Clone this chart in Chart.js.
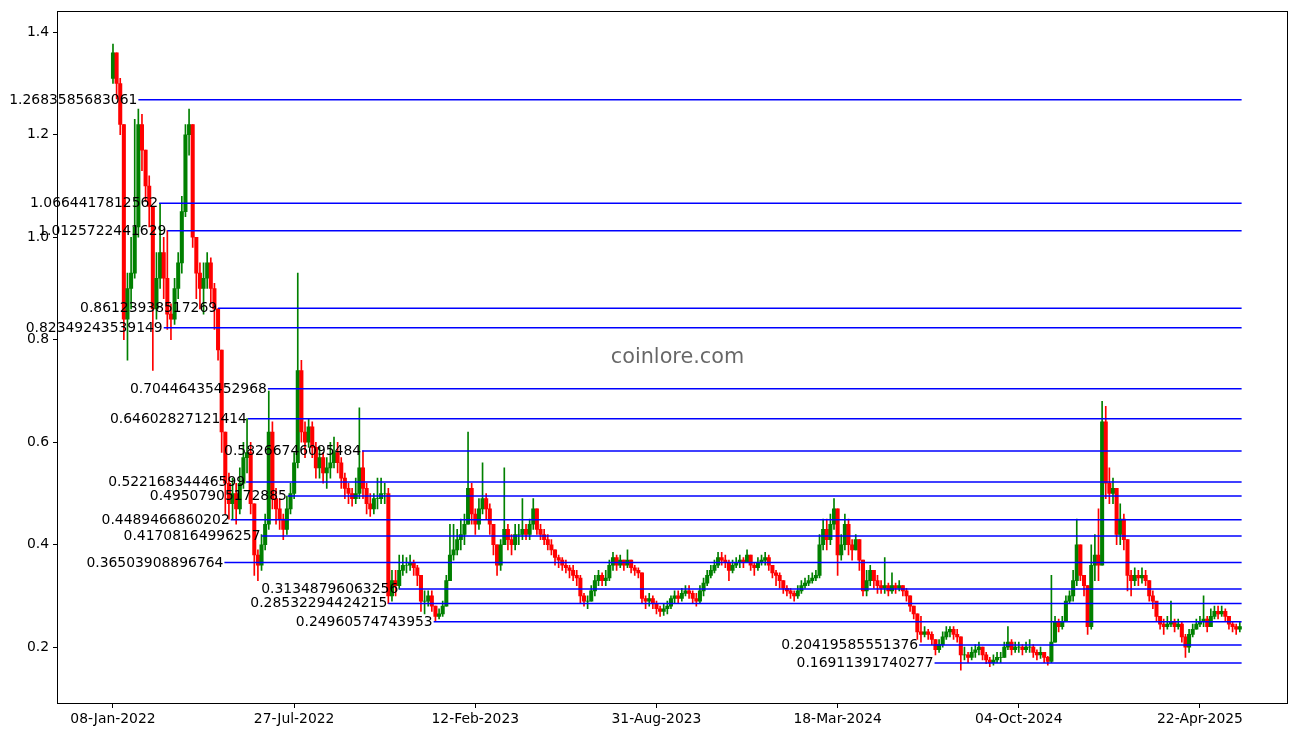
<!DOCTYPE html>
<html><head><meta charset="utf-8">
<script src="https://cdn.jsdelivr.net/npm/chart.js@4.4.1/dist/chart.umd.min.js"></script>
<style>html,body{margin:0;padding:0;background:#fff;}canvas{display:block;}</style>
</head><body>
<canvas id="c" width="1308" height="736" style="width:1308px;height:736px"></canvas>
<script>
// ---- data (4-day candles from 08-Jan-2022) ----
const stepDays = 4;
const firstOpen = 1.31;
const closes = [
1.36,1.30,1.22,0.84,0.90,0.93,1.02,1.22,1.17,1.10,
1.06,0.86,0.92,0.97,0.92,0.85,0.84,0.90,0.95,1.05,
1.20,1.22,1.00,0.93,0.90,0.92,0.95,0.90,0.86,0.78,
0.62,0.52,0.48,0.50,0.47,0.52,0.57,0.58,0.48,0.38,
0.36,0.40,0.44,0.62,0.49,0.47,0.45,0.43,0.47,0.50,
0.56,0.74,0.62,0.60,0.63,0.59,0.55,0.57,0.54,0.55,
0.56,0.58,0.56,0.53,0.51,0.50,0.49,0.50,0.55,0.51,
0.48,0.47,0.49,0.49,0.50,0.50,0.30,0.33,0.32,0.35,
0.36,0.36,0.365,0.355,0.34,0.29,0.29,0.30,0.28,0.26,
0.265,0.28,0.33,0.38,0.39,0.41,0.42,0.44,0.51,0.46,
0.44,0.47,0.49,0.47,0.44,0.40,0.36,0.40,0.43,0.41,
0.40,0.42,0.42,0.43,0.42,0.44,0.47,0.43,0.42,0.41,
0.40,0.39,0.375,0.37,0.36,0.355,0.35,0.34,0.335,0.30,
0.29,0.29,0.31,0.33,0.34,0.33,0.335,0.36,0.375,0.36,
0.37,0.36,0.37,0.355,0.35,0.345,0.295,0.29,0.295,0.285,
0.275,0.27,0.275,0.28,0.295,0.30,0.295,0.305,0.31,0.305,
0.295,0.29,0.31,0.325,0.34,0.35,0.36,0.375,0.37,0.365,
0.35,0.36,0.365,0.37,0.365,0.38,0.36,0.355,0.365,0.37,
0.375,0.36,0.345,0.34,0.33,0.315,0.31,0.305,0.30,0.31,
0.32,0.325,0.33,0.335,0.34,0.40,0.43,0.41,0.44,0.47,
0.38,0.40,0.44,0.40,0.39,0.41,0.37,0.31,0.33,0.35,
0.33,0.32,0.315,0.32,0.31,0.32,0.315,0.32,0.31,0.30,
0.28,0.265,0.23,0.225,0.23,0.225,0.215,0.195,0.205,0.22,
0.23,0.235,0.225,0.22,0.185,0.185,0.18,0.19,0.195,0.20,
0.185,0.175,0.17,0.175,0.18,0.18,0.20,0.21,0.195,0.20,
0.20,0.195,0.20,0.20,0.19,0.185,0.19,0.18,0.172,0.21,
0.25,0.24,0.25,0.29,0.30,0.33,0.40,0.34,0.32,0.24,
0.36,0.38,0.36,0.64,0.52,0.50,0.51,0.42,0.45,0.41,
0.34,0.33,0.34,0.335,0.34,0.33,0.30,0.29,0.26,0.245,
0.24,0.245,0.25,0.24,0.245,0.22,0.20,0.225,0.235,0.245,
0.25,0.255,0.24,0.26,0.27,0.265,0.27,0.26,0.245,0.24,
0.235,0.24
];
const highs = [
1.377,1.36,1.31,1.22,0.93,1.0,1.23,1.25,1.24,1.17,
1.12,1.06,0.97,1.066,1.0,1.013,0.87,0.92,0.97,1.08,
1.22,1.25,1.22,0.99,0.95,0.95,0.97,0.96,0.91,0.861,
0.78,0.62,0.54,0.53,0.52,0.55,0.6,0.646,0.6,0.48,
0.39,0.42,0.46,0.70,0.64,0.51,0.49,0.46,0.495,0.52,
0.58,0.93,0.76,0.64,0.645,0.64,0.6,0.59,0.58,0.57,
0.6,0.61,0.6,0.57,0.54,0.52,0.51,0.53,0.667,0.583,
0.52,0.5,0.5,0.53,0.53,0.52,0.51,0.35,0.35,0.38,
0.38,0.375,0.38,0.37,0.36,0.34,0.31,0.31,0.31,0.28,
0.275,0.29,0.34,0.44,0.44,0.43,0.45,0.46,0.62,0.52,
0.47,0.49,0.56,0.5,0.48,0.44,0.40,0.41,0.55,0.44,
0.42,0.44,0.44,0.49,0.44,0.45,0.49,0.47,0.44,0.43,
0.42,0.41,0.39,0.38,0.375,0.37,0.36,0.36,0.35,0.34,
0.305,0.30,0.32,0.34,0.35,0.345,0.35,0.37,0.385,0.38,
0.38,0.37,0.39,0.37,0.36,0.355,0.345,0.30,0.305,0.30,
0.29,0.28,0.285,0.29,0.30,0.31,0.31,0.315,0.32,0.32,
0.31,0.305,0.32,0.335,0.35,0.36,0.37,0.385,0.385,0.38,
0.37,0.37,0.375,0.38,0.375,0.39,0.38,0.365,0.375,0.38,
0.385,0.38,0.36,0.35,0.345,0.33,0.32,0.315,0.31,0.32,
0.33,0.335,0.34,0.345,0.35,0.42,0.45,0.45,0.46,0.49,
0.47,0.42,0.46,0.45,0.41,0.42,0.41,0.37,0.35,0.36,
0.35,0.34,0.33,0.375,0.325,0.345,0.325,0.33,0.32,0.315,
0.30,0.28,0.265,0.26,0.24,0.235,0.23,0.215,0.215,0.23,
0.24,0.24,0.24,0.235,0.22,0.20,0.19,0.20,0.205,0.21,
0.20,0.19,0.18,0.185,0.19,0.19,0.21,0.24,0.215,0.21,
0.21,0.205,0.21,0.215,0.205,0.195,0.20,0.19,0.182,0.34,
0.26,0.255,0.26,0.30,0.31,0.35,0.45,0.40,0.34,0.32,
0.40,0.42,0.47,0.68,0.67,0.55,0.53,0.51,0.48,0.46,
0.41,0.35,0.355,0.35,0.355,0.35,0.33,0.31,0.285,0.26,
0.255,0.26,0.29,0.255,0.255,0.25,0.225,0.235,0.245,0.255,
0.26,0.30,0.26,0.275,0.28,0.28,0.28,0.275,0.26,0.25,
0.245,0.25
];
const lows = [
1.30,1.27,1.20,0.80,0.76,0.86,0.92,1.0,1.13,1.07,
1.02,0.74,0.84,0.90,0.88,0.82,0.80,0.83,0.88,0.93,
1.04,1.16,0.98,0.88,0.86,0.85,0.90,0.87,0.82,0.76,
0.58,0.46,0.45,0.45,0.44,0.46,0.51,0.54,0.46,0.34,
0.33,0.35,0.39,0.43,0.47,0.44,0.43,0.41,0.42,0.46,
0.49,0.55,0.60,0.57,0.59,0.57,0.53,0.53,0.52,0.51,
0.53,0.55,0.54,0.51,0.49,0.48,0.475,0.48,0.49,0.49,
0.46,0.455,0.46,0.47,0.48,0.48,0.285,0.29,0.30,0.313,
0.34,0.345,0.35,0.34,0.32,0.27,0.265,0.28,0.27,0.25,
0.255,0.26,0.28,0.33,0.37,0.38,0.39,0.40,0.44,0.44,
0.42,0.43,0.46,0.45,0.42,0.38,0.34,0.35,0.40,0.39,
0.38,0.39,0.40,0.41,0.41,0.41,0.43,0.42,0.41,0.40,
0.39,0.38,0.36,0.355,0.35,0.345,0.335,0.33,0.32,0.285,
0.28,0.275,0.29,0.30,0.32,0.32,0.32,0.33,0.35,0.35,
0.355,0.35,0.355,0.345,0.34,0.335,0.285,0.275,0.28,0.275,
0.265,0.26,0.262,0.265,0.275,0.285,0.285,0.29,0.30,0.295,
0.285,0.28,0.285,0.30,0.32,0.335,0.345,0.355,0.36,0.355,
0.33,0.345,0.355,0.355,0.355,0.365,0.35,0.34,0.35,0.36,
0.36,0.35,0.335,0.32,0.315,0.305,0.30,0.295,0.29,0.295,
0.305,0.315,0.32,0.325,0.33,0.335,0.39,0.39,0.40,0.43,
0.34,0.37,0.39,0.38,0.37,0.39,0.35,0.30,0.30,0.32,
0.315,0.305,0.305,0.305,0.30,0.305,0.305,0.31,0.30,0.29,
0.27,0.255,0.215,0.21,0.22,0.215,0.205,0.185,0.19,0.20,
0.215,0.22,0.215,0.21,0.155,0.175,0.17,0.175,0.18,0.185,
0.175,0.168,0.162,0.165,0.17,0.17,0.18,0.195,0.185,0.19,
0.19,0.185,0.19,0.19,0.18,0.175,0.178,0.17,0.165,0.17,
0.21,0.23,0.235,0.25,0.285,0.29,0.32,0.33,0.30,0.225,
0.235,0.33,0.33,0.36,0.49,0.48,0.48,0.40,0.40,0.39,
0.31,0.30,0.32,0.32,0.325,0.32,0.29,0.275,0.25,0.235,
0.225,0.235,0.24,0.23,0.235,0.21,0.18,0.19,0.22,0.235,
0.24,0.24,0.23,0.245,0.255,0.255,0.26,0.25,0.235,0.23,
0.225,0.23
];
const tickDays = [0, 200, 400, 600, 800, 1000, 1200];
const tickLabels = ['08-Jan-2022','27-Jul-2022','12-Feb-2023','31-Aug-2023','18-Mar-2024','04-Oct-2024','22-Apr-2025'];
const yTicks = [0.2, 0.4, 0.6, 0.8, 1.0, 1.2, 1.4];
const levels = [1.2683585683061, 1.0664417812562, 1.0125722441629, 0.86123938517269, 0.82349243539149,
  0.70446435452968, 0.64602827121414, 0.58266746095484, 0.52216834446599, 0.49507905172885,
  0.4489466860202, 0.41708164996257, 0.36503908896764, 0.31348796063256, 0.28532294424215,
  0.24960574743953, 0.20419585551376, 0.16911391740277];
const levelStartDays = [28, 51, 60, 116, 56, 171, 149, 275, 147, 193, 130, 164, 123, 316, 304, 354, 890, 907];
const levelEndDay = 1246;

// ---- build ----
const FONT = "'DejaVu Sans', 'Liberation Sans', sans-serif";
Chart.defaults.font.family = FONT;
Chart.defaults.color = '#000';

const days = closes.map((_, i) => i * stepDays);
const opens = closes.map((c, i) => i === 0 ? firstOpen : closes[i - 1]);
const colors = closes.map((c, i) => c >= opens[i] ? '#008000' : '#ff0000');

const datasets = [];
levels.forEach((lv, k) => {
  datasets.push({
    type: 'line',
    data: [{x: levelStartDays[k], y: lv}, {x: levelEndDay, y: lv}],
    borderColor: '#0000ff', borderWidth: 1.5, pointRadius: 0, order: 1, tension: 0
  });
});
datasets.push({
  type: 'bar', grouped: false, order: 3,
  data: days.map((d, i) => ({x: d, y: [lows[i], highs[i]]})),
  backgroundColor: colors, borderWidth: 0, barThickness: 1
});
datasets.push({
  type: 'bar', grouped: false, order: 2,
  data: days.map((d, i) => ({x: d, y: [opens[i], closes[i]]})),
  backgroundColor: colors, borderWidth: 0, barThickness: 3.4
});

const decor = {
  id: 'decor',
  afterDraw(chart) {
    const ctx = chart.ctx, a = chart.chartArea;
    const xs = chart.scales.x, ys = chart.scales.y;
    ctx.save();
    ctx.strokeStyle = '#000'; ctx.lineWidth = 1;
    ctx.strokeRect(Math.round(a.left) - 0.5, Math.round(a.top) - 0.5, Math.round(a.right - a.left) + 1, Math.round(a.bottom - a.top) + 1);
    ctx.font = '13.9px ' + FONT;
    ctx.fillStyle = '#000';
    ctx.textAlign = 'right'; ctx.textBaseline = 'middle';
    levels.forEach((lv, k) => {
      ctx.fillText(String(lv), xs.getPixelForValue(levelStartDays[k]) - 1, Math.round(ys.getPixelForValue(lv)));
    });
    ctx.font = '20.8px ' + FONT;
    ctx.fillStyle = 'rgba(0,0,0,0.6)';
    ctx.textAlign = 'center';
    ctx.fillText('coinlore.com', (a.left + a.right) / 2 + 5, (a.top + a.bottom) / 2);
    ctx.restore();
  }
};

new Chart(document.getElementById('c'), {
  type: 'bar',
  data: { datasets },
  options: {
    responsive: false, animation: false,
    layout: { padding: { top: 10, right: 21, left: 0, bottom: 0 } },
    plugins: { legend: { display: false }, tooltip: { enabled: false } },
    scales: {
      x: {
        type: 'linear', min: -60.7, max: 1296.1, offset: false,
        grid: { drawOnChartArea: false, color: '#000', tickLength: 5, offset: false },
        border: { display: false },
        ticks: {
          autoSkip: false, maxRotation: 0, padding: 3, color: '#000',
          font: { size: 13.9, family: FONT },
          callback: (v) => { const k = tickDays.indexOf(v); return k >= 0 ? tickLabels[k] : ''; }
        },
        afterBuildTicks: (s) => { s.ticks = tickDays.map(v => ({value: v})); },
        afterFit: (s) => { s.height = 33; }
      },
      y: {
        type: 'linear', min: 0.0911, max: 1.4389,
        grid: { drawOnChartArea: false, color: '#000', tickLength: 5 },
        border: { display: false },
        ticks: {
          padding: 4, color: '#000', font: { size: 13.9, family: FONT },
          callback: (v) => Number(v).toFixed(1)
        },
        afterBuildTicks: (s) => { s.ticks = yTicks.map(v => ({value: v})); },
        afterFit: (s) => { s.width = 58; }
      }
    }
  },
  plugins: [decor]
});
</script>
</body></html>
